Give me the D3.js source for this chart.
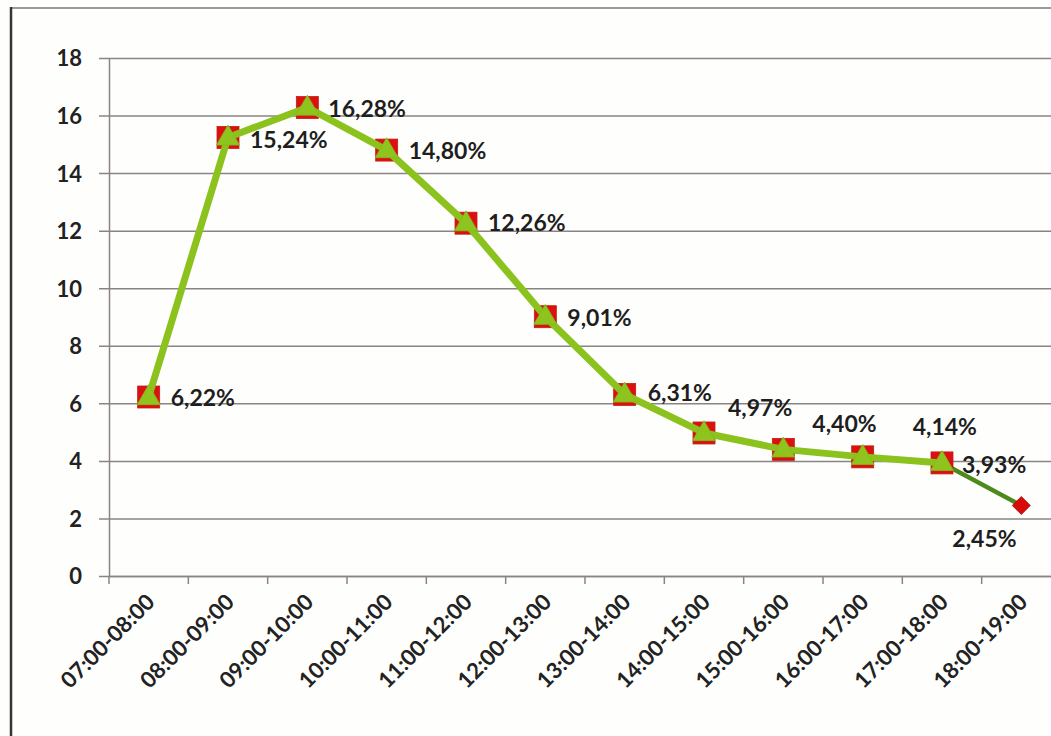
<!DOCTYPE html>
<html><head><meta charset="utf-8">
<script src="https://cdn.jsdelivr.net/npm/d3@7/dist/d3.min.js"></script>
<style>
html,body{margin:0;padding:0;background:#fff;}
svg{display:block;}
</style></head>
<body>
<svg id="chart" width="1051" height="736"></svg>
<script>
// ---- data ----
const categories = ["07:00-08:00","08:00-09:00","09:00-10:00","10:00-11:00","11:00-12:00","12:00-13:00","13:00-14:00","14:00-15:00","15:00-16:00","16:00-17:00","17:00-18:00","18:00-19:00"];
const redValues = [6.22,15.24,16.28,14.80,12.26,9.01,6.31,4.97,4.40,4.14,3.93,2.45];
const greenValues = [6.22,15.24,16.28,14.80,12.26,9.01,6.31,4.97,4.40,4.14,3.93];
const labelTexts = ["6,22%","15,24%","16,28%","14,80%","12,26%","9,01%","6,31%","4,97%","4,40%","4,14%","3,93%","2,45%"];
const yTicks = [0,2,4,6,8,10,12,14,16,18];
// label placement nudges (pixels, relative to the point)
const labelNudge = [[22,1],[22,2],[21,1],[22,1],[22,0],[22,1],[23,-2],[24,-25],[29,-26],[50,-30],[20,2],[-69,33]];

const svg = d3.select("#chart");
const font = "Lato, 'Open Sans', sans-serif";

const x = d3.scaleBand().domain(categories).range([109, 1061]);
const y = d3.scaleLinear().domain([0,18]).range([576, 58]);
const cx = d => x(d) + x.bandwidth()/2;

// frame
svg.append("rect").attr("x",0).attr("y",0).attr("width",1051).attr("height",736).attr("fill","#fefefd");
svg.append("line").attr("x1",10).attr("x2",1051).attr("y1",8).attr("y2",8).attr("stroke","#9a9a9a").attr("stroke-width",2);
svg.append("line").attr("x1",11).attr("x2",11).attr("y1",7).attr("y2",736).attr("stroke","#3a3434").attr("stroke-width",2.5);

// gridlines + y axis
const yAxis = d3.axisLeft(y).tickValues(yTicks).tickSize(-(1061-109)).tickSizeOuter(0).tickPadding(0).tickFormat(d3.format("d"));
const gy = svg.append("g").attr("transform","translate(109,0)").call(yAxis);
gy.select(".domain").attr("stroke","#8a8484").attr("stroke-width",1.5);
gy.selectAll(".tick line").attr("stroke","#8a8484").attr("stroke-width",1.5).attr("x1",-10);
gy.selectAll(".tick text").attr("x",-27).attr("font-family",font).attr("font-weight","bold").attr("font-size",22).attr("fill","#222").attr("dy","0.36em");

// x axis ticks
const xAxis = d3.axisBottom(x).tickSize(0).tickFormat("");
const gx = svg.append("g").attr("transform","translate(0,576)").call(xAxis);
gx.select(".domain").attr("stroke","#8a8484").attr("stroke-width",1.5);
gx.selectAll(".tick").remove();
const bounds = categories.map(c => x(c)).concat([x(categories[categories.length-1]) + x.bandwidth()]);
gx.selectAll("line.bt").data(bounds).enter().append("line").attr("class","bt")
  .attr("x1",d=>d).attr("x2",d=>d).attr("y1",0).attr("y2",8).attr("stroke","#8a8484").attr("stroke-width",1.5);

// x labels rotated
svg.append("g").selectAll("text").data(categories).enter().append("text")
  .attr("transform", d => `translate(${cx(d)+2},${598}) rotate(-45)`)
  .attr("text-anchor","end").attr("dy","0.35em")
  .attr("font-family",font).attr("font-weight","bold").attr("font-size",22).attr("fill","#222")
  .text(d=>d);

// red series line (dark green) underneath
const line = d3.line().x((d,i)=>cx(categories[i])).y(d=>y(d));
svg.append("path").datum(redValues).attr("d",line).attr("fill","none").attr("stroke","#4d8a1c").attr("stroke-width",4.5).attr("stroke-linejoin","round");

// red markers
const redG = svg.append("g");
redValues.forEach((v,i)=>{
  const px = cx(categories[i]), py = y(v);
  if (i < redValues.length-1) {
    redG.append("rect").attr("x",px-11).attr("y",py-11).attr("width",22).attr("height",22).attr("fill","#dc1010").attr("stroke","#c02010").attr("stroke-width",0.8);
  } else {
    redG.append("path").attr("d",`M${px},${py-9} L${px+9},${py} L${px},${py+9} L${px-9},${py} Z`).attr("fill","#d80a0a").attr("stroke","#b00808").attr("stroke-width",0.8);
  }
});

// green series line
svg.append("path").datum(greenValues).attr("d",line).attr("fill","none").attr("stroke","#8cc21e").attr("stroke-width",7).attr("stroke-linejoin","round");

// green triangle markers
const sym = d3.symbol().type(d3.symbolTriangle).size(230);
svg.append("g").selectAll("path").data(greenValues).enter().append("path")
  .attr("d",sym).attr("transform",(d,i)=>`translate(${cx(categories[i])},${y(d)+1})`)
  .attr("fill","#8fc41f").attr("stroke","#84b81a").attr("stroke-width",0.8);

// data labels
svg.append("g").selectAll("text").data(redValues).enter().append("text")
  .attr("x",(d,i)=>cx(categories[i]) + labelNudge[i][0])
  .attr("y",(d,i)=>y(d) + labelNudge[i][1])
  .attr("dy","0.36em")
  .attr("font-family",font).attr("font-weight","bold").attr("font-size",23).attr("fill","#1e1e1e")
  .text((d,i)=>labelTexts[i]);
</script>
</body></html>
